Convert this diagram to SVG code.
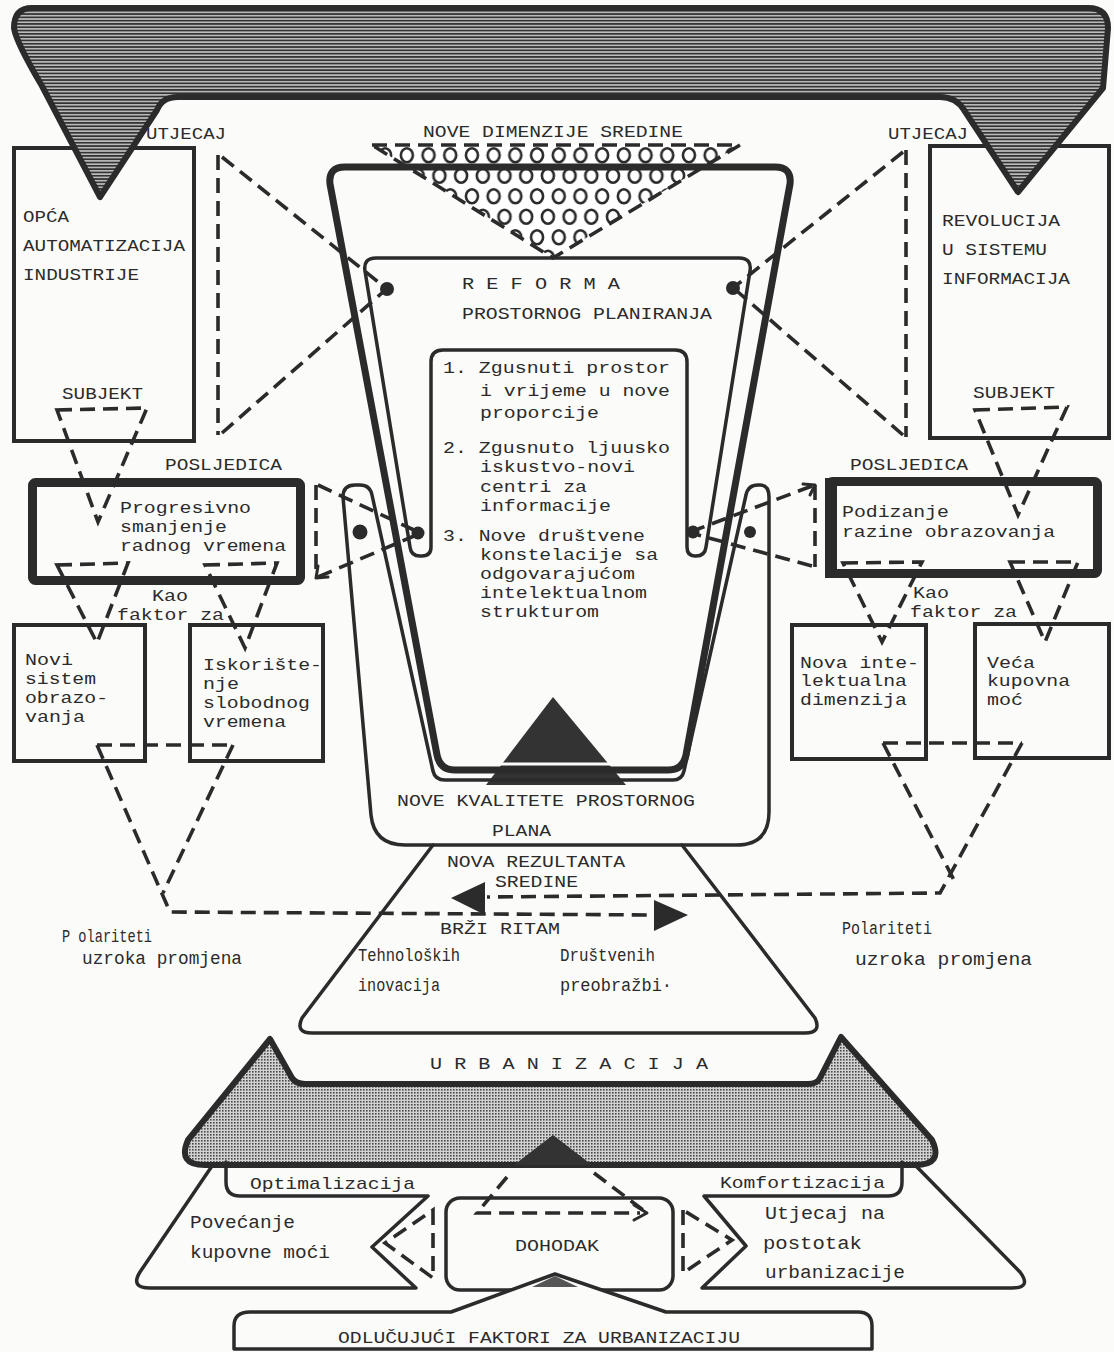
<svg xmlns="http://www.w3.org/2000/svg" width="1114" height="1352" viewBox="0 0 1114 1352">
<defs>
  <pattern id="hatch" x="0" y="0" width="6" height="3.3" patternUnits="userSpaceOnUse">
    <rect width="6" height="3.3" fill="#bdbdbd"/>
    <rect width="6" height="1.7" fill="#333333"/>
  </pattern>
  <pattern id="dots" x="0" y="0" width="3" height="3" patternUnits="userSpaceOnUse">
    <rect width="3" height="3" fill="#d2d2d2"/>
    <rect width="1.6" height="1.6" fill="#4a4a4a"/>
  </pattern>
  <pattern id="rings" x="396" y="145" width="21.7" height="41" patternUnits="userSpaceOnUse">
    <rect width="21.7" height="41" fill="#ffffff"/>
    <ellipse cx="10.85" cy="10.25" rx="6" ry="7" fill="none" stroke="#2b2b2b" stroke-width="2.6"/>
    <ellipse cx="0" cy="30.75" rx="6" ry="7" fill="none" stroke="#2b2b2b" stroke-width="2.6"/>
    <ellipse cx="21.7" cy="30.75" rx="6" ry="7" fill="none" stroke="#2b2b2b" stroke-width="2.6"/>
  </pattern>
</defs>
<style>
  .ink{fill:none;stroke:#2b2b2b;stroke-linejoin:round;stroke-linecap:round}
  .dash{fill:none;stroke:#2b2b2b;stroke-width:3.6;stroke-dasharray:15 8}
  .box{fill:none;stroke:#2b2b2b;stroke-width:4}
  .heavy{fill:none;stroke:#2b2b2b;stroke-width:9}
  .dot{fill:#2b2b2b}
  text{font-family:"Liberation Mono","DejaVu Sans Mono",monospace;fill:#2b2b2b}
  .cap{font-size:17px}
  .pol{font-size:18px}
  .cond{font-size:19px}
  .body{font-size:16.5px}
</style>

<rect width="1114" height="1352" fill="#fbfbfa"/>

<!-- Side boxes -->
<g id="box-opca">
  <rect class="box" x="14" y="148" width="180" height="293"/>
  <text class="cap" x="23" y="222" textLength="46" lengthAdjust="spacingAndGlyphs">OPĆA</text>
  <text class="cap" x="23" y="251" textLength="162" lengthAdjust="spacingAndGlyphs">AUTOMATIZACIJA</text>
  <text class="cap" x="23" y="280" textLength="116" lengthAdjust="spacingAndGlyphs">INDUSTRIJE</text>
  <text class="cap" x="62" y="399" textLength="81" lengthAdjust="spacingAndGlyphs">SUBJEKT</text>
</g>
<g id="box-revolucija">
  <rect class="box" x="930" y="146" width="179" height="292"/>
  <text class="cap" x="942" y="226" textLength="118" lengthAdjust="spacingAndGlyphs">REVOLUCIJA</text>
  <text class="cap" x="942" y="255" textLength="105" lengthAdjust="spacingAndGlyphs">U SISTEMU</text>
  <text class="cap" x="942" y="284" textLength="128" lengthAdjust="spacingAndGlyphs">INFORMACIJA</text>
  <text class="cap" x="973" y="398" textLength="82" lengthAdjust="spacingAndGlyphs">SUBJEKT</text>
</g>
<g id="labels-top">
  <text class="cap" x="146" y="139" textLength="80" lengthAdjust="spacingAndGlyphs">UTJECAJ</text>
  <text class="cap" x="888" y="139" textLength="80" lengthAdjust="spacingAndGlyphs">UTJECAJ</text>
  <text class="cap" x="423" y="137" textLength="260" lengthAdjust="spacingAndGlyphs">NOVE DIMENZIJE SREDINE</text>
</g>

<!-- Top hatched bar -->
<g id="top-bar">
  <path d="M 32,8 L 1088,8 Q 1108,8 1108,28 L 1103,88 L 1018,192 L 964,110 Q 956,97 940,97 L 178,97 Q 162,97 157,110 L 100,197 L 42,86 Q 16,42 14,28 Q 14,8 32,8 Z" fill="url(#hatch)" stroke="#2b2b2b" stroke-width="6" stroke-linejoin="round"/>
</g>

<!-- Ring-filled triangle -->
<g id="nove-dimenzije">
  <polygon points="372,145 740,145 553,258" fill="url(#rings)"/>
  <polygon points="372,145 740,145 553,258" class="dash" stroke-width="4"/>
</g>

<!-- Central cup -->
<g id="cup">
  <path d="M 553,697 L 486,785 L 626,785 Z" fill="#333333"/>
  <line x1="496" y1="764" x2="614" y2="764" stroke="#fbfbfa" stroke-width="3"/>
  <path class="ink" stroke-width="7" d="M 345,167 L 775,167 Q 792,167 790,184 L 686,755 Q 683,770 668,770 L 455,770 Q 440,770 437,755 L 330,184 Q 328,167 345,167 Z"/>
  <path class="ink" stroke-width="3.5" d="M 376,258 L 739,258 Q 752,258 750,271 L 706,547 Q 705,556 696,556 L 695,556 Q 687,556 687,547 L 687,362 Q 687,350 675,350 L 443,350 Q 431,350 431,362 L 431,547 Q 431,556 422,556 L 420,556 Q 411,556 410,547 L 365,271 Q 363,258 376,258 Z"/>
  <path class="ink" stroke-width="3.5" d="M 343,497 Q 343,485 355,485 L 360,485 Q 370,485 372,495 L 433,771 Q 435,780 445,780 L 673,780 Q 682,780 684,771 L 746,495 Q 748,485 758,485 L 760,485 Q 769,485 769,497 L 769,812 Q 769,845 736,845 L 405,845 Q 374,845 371,815 Z"/>
  <circle class="dot" cx="387" cy="289" r="7"/>
  <circle class="dot" cx="733" cy="288" r="7"/>
  <circle class="dot" cx="418" cy="533" r="6.5"/>
  <circle class="dot" cx="360" cy="532" r="7.5"/>
  <circle class="dot" cx="693" cy="532" r="6.5"/>
  <circle class="dot" cx="750" cy="532" r="6"/>
  <text class="cap" x="462" y="289" textLength="158" lengthAdjust="spacingAndGlyphs">R E F O R M A</text>
  <text class="cap" x="462" y="319" textLength="250" lengthAdjust="spacingAndGlyphs">PROSTORNOG PLANIRANJA</text>
  <text class="body" x="443" y="373" textLength="227" lengthAdjust="spacingAndGlyphs">1. Zgusnuti prostor</text>
  <text class="body" x="480" y="396" textLength="190" lengthAdjust="spacingAndGlyphs">i vrijeme u nove</text>
  <text class="body" x="480" y="418" textLength="119" lengthAdjust="spacingAndGlyphs">proporcije</text>
  <text class="body" x="443" y="453" textLength="227" lengthAdjust="spacingAndGlyphs">2. Zgusnuto ljuusko</text>
  <text class="body" x="480" y="472" textLength="155" lengthAdjust="spacingAndGlyphs">iskustvo-novi</text>
  <text class="body" x="480" y="492" textLength="107" lengthAdjust="spacingAndGlyphs">centri za</text>
  <text class="body" x="480" y="511" textLength="131" lengthAdjust="spacingAndGlyphs">informacije</text>
  <text class="body" x="443" y="541" textLength="202" lengthAdjust="spacingAndGlyphs">3. Nove društvene</text>
  <text class="body" x="480" y="560" textLength="178" lengthAdjust="spacingAndGlyphs">konstelacije sa</text>
  <text class="body" x="480" y="579" textLength="155" lengthAdjust="spacingAndGlyphs">odgovarajućom</text>
  <text class="body" x="480" y="598" textLength="167" lengthAdjust="spacingAndGlyphs">intelektualnom</text>
  <text class="body" x="480" y="617" textLength="119" lengthAdjust="spacingAndGlyphs">strukturom</text>
  <text class="cap" x="397" y="806" textLength="298" lengthAdjust="spacingAndGlyphs">NOVE KVALITETE PROSTORNOG</text>
  <text class="cap" x="492" y="836" textLength="59" lengthAdjust="spacingAndGlyphs">PLANA</text>
</g>

<!-- Left POSLJEDICA branch -->
<g id="box-progresivno">
  <text class="cap" x="165" y="470" textLength="117" lengthAdjust="spacingAndGlyphs">POSLJEDICA</text>
  <rect class="heavy" x="32.5" y="482.5" width="268" height="98" rx="3"/>
  <text class="body" x="120" y="513" textLength="131" lengthAdjust="spacingAndGlyphs">Progresivno</text>
  <text class="body" x="120" y="532" textLength="107" lengthAdjust="spacingAndGlyphs">smanjenje</text>
  <text class="body" x="120" y="551" textLength="166" lengthAdjust="spacingAndGlyphs">radnog vremena</text>
</g>
<g id="box-novi">
  <rect class="box" x="14" y="625" width="131" height="136"/>
  <text class="body" x="25" y="665" textLength="48" lengthAdjust="spacingAndGlyphs">Novi</text>
  <text class="body" x="25" y="684" textLength="71" lengthAdjust="spacingAndGlyphs">sistem</text>
  <text class="body" x="25" y="703" textLength="83" lengthAdjust="spacingAndGlyphs">obrazo-</text>
  <text class="body" x="25" y="722" textLength="60" lengthAdjust="spacingAndGlyphs">vanja</text>
</g>
<g id="box-iskoristenje">
  <rect class="box" x="190" y="625" width="133" height="136"/>
  <text class="body" x="203" y="670" textLength="119" lengthAdjust="spacingAndGlyphs">Iskorište-</text>
  <text class="body" x="203" y="689" textLength="36" lengthAdjust="spacingAndGlyphs">nje</text>
  <text class="body" x="203" y="708" textLength="107" lengthAdjust="spacingAndGlyphs">slobodnog</text>
  <text class="body" x="203" y="727" textLength="83" lengthAdjust="spacingAndGlyphs">vremena</text>
</g>
<g id="label-kao-left">
  <text class="body" x="152" y="601" textLength="36" lengthAdjust="spacingAndGlyphs">Kao</text>
  <text class="body" x="117" y="620" textLength="107" lengthAdjust="spacingAndGlyphs">faktor za</text>
</g>

<!-- Right POSLJEDICA branch -->
<g id="box-podizanje">
  <text class="cap" x="850" y="470" textLength="118" lengthAdjust="spacingAndGlyphs">POSLJEDICA</text>
  <rect class="heavy" x="829.5" y="481.5" width="268" height="92" rx="3"/>
  <line x1="831" y1="478" x2="831" y2="578" stroke="#2b2b2b" stroke-width="12"/>
  <text class="body" x="842" y="517" textLength="107" lengthAdjust="spacingAndGlyphs">Podizanje</text>
  <text class="body" x="842" y="537" textLength="213" lengthAdjust="spacingAndGlyphs">razine obrazovanja</text>
</g>
<g id="box-nova-intelektualna">
  <rect class="box" x="792" y="625" width="134" height="134"/>
  <text class="body" x="800" y="668" textLength="119" lengthAdjust="spacingAndGlyphs">Nova inte-</text>
  <text class="body" x="800" y="686" textLength="107" lengthAdjust="spacingAndGlyphs">lektualna</text>
  <text class="body" x="800" y="705" textLength="107" lengthAdjust="spacingAndGlyphs">dimenzija</text>
</g>
<g id="box-veca">
  <rect class="box" x="975" y="624" width="134" height="134"/>
  <text class="body" x="987" y="668" textLength="48" lengthAdjust="spacingAndGlyphs">Veća</text>
  <text class="body" x="987" y="686" textLength="83" lengthAdjust="spacingAndGlyphs">kupovna</text>
  <text class="body" x="987" y="705" textLength="36" lengthAdjust="spacingAndGlyphs">moć</text>
</g>
<g id="label-kao-right">
  <text class="body" x="913" y="598" textLength="36" lengthAdjust="spacingAndGlyphs">Kao</text>
  <text class="body" x="910" y="617" textLength="107" lengthAdjust="spacingAndGlyphs">faktor za</text>
</g>

<!-- Lower trapezoid -->
<g id="rezultanta">
  <path class="ink" stroke-width="3.5" d="M 433,845 L 302,1018 Q 295,1033 312,1033 L 805,1033 Q 822,1033 815,1018 L 682,845"/>
  <text class="cap" x="447" y="867" textLength="178" lengthAdjust="spacingAndGlyphs">NOVA REZULTANTA</text>
  <text class="cap" x="495" y="887" textLength="83" lengthAdjust="spacingAndGlyphs">SREDINE</text>
  <text class="cap" x="440" y="934" textLength="120" lengthAdjust="spacingAndGlyphs">BRŽI RITAM</text>
  <text class="cond" x="358" y="961" textLength="102" lengthAdjust="spacingAndGlyphs">Tehnoloških</text>
  <text class="cond" x="358" y="991" textLength="82" lengthAdjust="spacingAndGlyphs">inovacija</text>
  <text class="cond" x="560" y="961" textLength="95" lengthAdjust="spacingAndGlyphs">Društvenih</text>
  <text class="cond" x="560" y="991" textLength="112" lengthAdjust="spacingAndGlyphs">preobražbi·</text>
</g>
<g id="polariteti">
  <text class="pol" x="62" y="942" textLength="90" lengthAdjust="spacingAndGlyphs">P olariteti</text>
  <text class="pol" x="82" y="964" textLength="160" lengthAdjust="spacingAndGlyphs">uzroka promjena</text>
  <text class="cond" x="842" y="934" textLength="90" lengthAdjust="spacingAndGlyphs">Polariteti</text>
  <text class="cond" x="855" y="965" textLength="177" lengthAdjust="spacingAndGlyphs">uzroka promjena</text>
</g>

<!-- Connectors -->
<g id="connectors">
  <path class="dash" d="M 218,155 L 218,435"/>
  <path class="dash" d="M 222,157 L 382,285"/>
  <path class="dash" d="M 222,433 L 382,293"/>
  <path class="dash" d="M 906,150 L 906,437"/>
  <path class="dash" d="M 903,152 L 738,284"/>
  <path class="dash" d="M 903,435 L 738,292"/>
  <path class="dash" d="M 57,410 L 147,408 L 98,522 Z"/>
  <path class="dash" d="M 975,410 L 1067,407 L 1018,515 Z"/>
  <path class="dash" d="M 57,565 L 128,563 L 97,643 Z"/>
  <path class="dash" d="M 205,565 L 277,563 L 245,648 Z"/>
  <path class="dash" d="M 843,563 L 922,562 L 882,642 Z"/>
  <path class="dash" d="M 1010,562 L 1078,562 L 1045,642 Z"/>
  <path class="dash" d="M 316,485 L 316,577"/>
  <path class="dash" d="M 318,485 L 414,530"/>
  <path class="dash" d="M 318,577 L 414,536"/>
  <path class="ink" stroke-width="3" d="M 318,566 L 316,578 L 328,577"/>
  <path class="dash" d="M 815,485 L 815,567"/>
  <path class="dash" d="M 812,486 L 698,529"/>
  <path class="dash" d="M 812,566 L 698,535"/>
  <path class="ink" stroke-width="3" d="M 803,484 L 815,485 L 810,495"/>
  <path class="dash" d="M 97,745 L 233,745"/>
  <path class="dash" d="M 97,745 L 170,912 L 655,915"/>
  <path class="dash" d="M 233,745 L 163,893"/>
  <path class="dash" d="M 883,743 L 1022,743"/>
  <path class="dash" d="M 883,743 L 955,882"/>
  <path class="dash" d="M 1022,743 L 940,893 L 487,897"/>
  <polygon points="688,915 654,900 654,931" fill="#2b2b2b"/>
  <polygon points="451,898 485,882 485,915" fill="#2b2b2b"/>
  <path class="dash" d="M 507,1177 L 477,1213 L 640,1213"/>
  <path class="dash" d="M 594,1173 L 643,1210"/>
  <path class="ink" stroke-width="3" d="M 634,1205 L 647,1213 L 634,1220"/>
  <path class="dash" d="M 433,1210 L 433,1278 L 385,1243 Z"/>
  <path class="dash" d="M 683,1210 L 683,1273 L 732,1240 Z"/>
</g>

<!-- Urbanizacija bar -->
<g id="urbanizacija">
  <text class="cap" x="430" y="1069" textLength="278" lengthAdjust="spacingAndGlyphs">U R B A N I Z A C I J A</text>
  <path d="M 270,1039 L 292,1078 Q 296,1084 305,1084 L 808,1084 Q 817,1084 820,1078 L 841,1037 L 932,1140 Q 944,1165 915,1165 L 205,1165 Q 177,1165 188,1140 Z" fill="url(#dots)" stroke="#2b2b2b" stroke-width="6" stroke-linejoin="round"/>
  <polygon points="553,1135 514,1165 592,1165" fill="#333333"/>
</g>
<g id="optimalizacija">
  <path class="ink" stroke-width="3.5" d="M 212,1166 L 140,1272 Q 130,1288 150,1288 L 416,1288 L 372,1247 L 428,1196 L 240,1196 Q 226,1196 226,1182 L 226,1162"/>
  <text class="cap" x="250" y="1189" textLength="165" lengthAdjust="spacingAndGlyphs">Optimalizacija</text>
  <text class="cond" x="190" y="1228" textLength="105" lengthAdjust="spacingAndGlyphs">Povećanje</text>
  <text class="cond" x="190" y="1258" textLength="140" lengthAdjust="spacingAndGlyphs">kupovne moći</text>
</g>
<g id="komfortizacija">
  <path class="ink" stroke-width="3.5" d="M 916,1166 L 1020,1272 Q 1032,1288 1012,1288 L 702,1288 L 746,1246 L 704,1196 L 888,1196 Q 902,1196 902,1182 L 902,1162"/>
  <text class="cap" x="720" y="1188" textLength="165" lengthAdjust="spacingAndGlyphs">Komfortizacija</text>
  <text class="cond" x="765" y="1219" textLength="120" lengthAdjust="spacingAndGlyphs">Utjecaj na</text>
  <text class="cond" x="763" y="1249" textLength="99" lengthAdjust="spacingAndGlyphs">postotak</text>
  <text class="cond" x="765" y="1278" textLength="140" lengthAdjust="spacingAndGlyphs">urbanizacije</text>
</g>
<g id="box-dohodak">
  <rect class="ink" stroke-width="3.5" x="446" y="1198" width="227" height="92" rx="14"/>
  <text class="cap" x="515" y="1251" textLength="84" lengthAdjust="spacingAndGlyphs">DOHODAK</text>
</g>
<g id="box-odlucujuci">
  <path d="M 234,1349 L 234,1326 Q 234,1312 250,1312 L 451,1312 L 555,1274 L 666,1312 L 858,1312 Q 872,1312 872,1326 L 872,1349 Z" fill="#fbfbfa" stroke="#2b2b2b" stroke-width="3.5" stroke-linejoin="round"/>
  <polygon points="555,1276 532,1287 578,1287" fill="#555555"/>
  <text class="cap" x="338" y="1343" textLength="402" lengthAdjust="spacingAndGlyphs">ODLUČUJUĆI FAKTORI ZA URBANIZACIJU</text>
</g>
</svg>
